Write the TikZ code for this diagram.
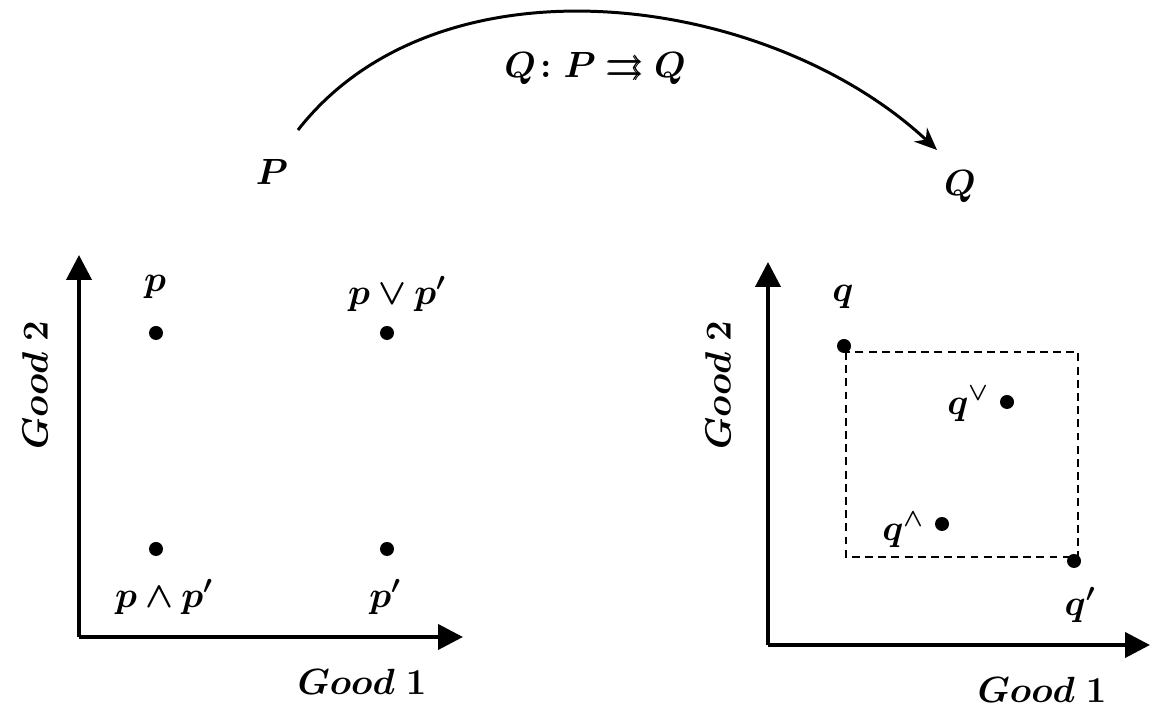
\documentclass[tikz,border=0pt]{standalone}
\usepackage{amsmath,amssymb,bm}
\usetikzlibrary{arrows.meta,positioning}

\begin{document}
\begin{tikzpicture}
\tikzstyle{axis}=[line width=2.3pt,-{Triangle[length=0.5cm,width=0.5cm]}]
\tikzstyle{dot}=[circle,fill,inner sep=0pt,minimum size=0.28cm]
\tikzstyle{lbl}=[font=\huge,inner sep=1pt]
\tikzstyle{box}=[line width=1.1pt,dash pattern=on 4.5pt off 3pt]

\useasboundingbox (0,0) rectangle (23.26,14.3);

% the map from P to Q
\coordinate (from) at (5.96,11.70);
\coordinate (to) at (18.74,11.30);
\draw [line width=1.7pt,-{Stealth[length=0.45cm,width=0.38cm]}] (from) to[out=52,in=137,looseness=0.92] (to);
\node (map) [lbl] at (11.90,12.94) {$\bm{Q\colon P \rightrightarrows Q}$};
\node (P) [lbl] at (5.44,10.86) {$\bm{P}$};
\node (Q) [lbl] at (19.20,10.56) {$\bm{Q}$};

% left panel
\coordinate (O1) at (1.58,1.56);
\coordinate (Y1) at (1.58,9.20);
\coordinate (X1) at (9.26,1.56);
\draw [axis] (O1) -- (Y1);
\draw [axis] (O1) -- (X1);
\node (g2a) [lbl,rotate=90] at (0.70,6.60) {$\bm{Good\ 2}$};
\node (g1a) [lbl] at (7.24,0.66) {$\bm{Good\ 1}$};

\node (p) [dot] at (3.12,7.64) {};
\node (pv) [dot] at (7.74,7.64) {};
\node (pw) [dot] at (3.12,3.32) {};
\node (pp) [dot] at (7.74,3.32) {};
\node [lbl] at (3.10,8.56) {$\bm{p}$};
\node [lbl] at (7.94,8.42) {$\bm{p\vee p'}$};
\node [lbl] at (3.28,2.36) {$\bm{p\wedge p'}$};
\node [lbl] at (7.70,2.36) {$\bm{p'}$};

% right panel
\coordinate (O2) at (15.36,1.40);
\coordinate (Y2) at (15.36,9.06);
\coordinate (X2) at (23.00,1.40);
\draw [axis] (O2) -- (Y2);
\draw [axis] (O2) -- (X2);
\node (g2b) [lbl,rotate=90] at (14.36,6.60) {$\bm{Good\ 2}$};
\node (g1b) [lbl] at (20.84,0.50) {$\bm{Good\ 1}$};

\draw [box] (16.92,7.26) rectangle (21.56,3.16);
\node (q) [dot] at (16.88,7.38) {};
\node (qq) [dot] at (21.48,3.08) {};
\node (qv) [dot] at (20.14,6.26) {};
\node (qw) [dot] at (18.84,3.82) {};
\node [lbl] at (16.86,8.36) {$\bm{q}$};
\node [lbl] at (21.60,2.20) {$\bm{q'}$};
\node [lbl] at (19.36,6.22) {$\bm{q^{\vee}}$};
\node [lbl] at (18.06,3.70) {$\bm{q^{\wedge}}$};

\end{tikzpicture}
\end{document}
